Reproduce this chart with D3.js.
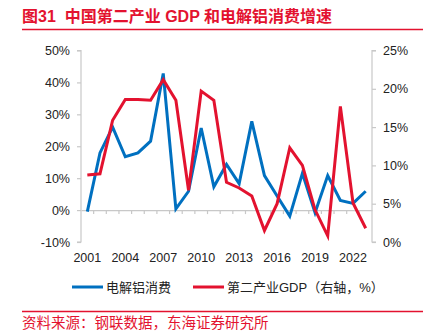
<!DOCTYPE html>
<html><head><meta charset="utf-8">
<script src="https://cdn.jsdelivr.net/npm/d3@7"></script>
<style>
body{margin:0;background:#fff;}
text{font-family:"Liberation Sans","Noto Sans CJK SC",Arial,sans-serif;}
.cjk{font-family:"Liberation Sans","Noto Sans CJK SC",sans-serif;white-space:pre;}
</style></head>
<body>
<svg id="c" width="438" height="333"></svg>
<script>
const years = d3.range(2001, 2024).map(String);
const aluminium = [-0.5,17.9,26.0,16.7,17.9,21.6,42.8,0.4,5.9,25.7,7.3,14.3,8.3,27.8,10.8,4.4,-1.9,11.5,-0.8,10.8,3.0,2.1,5.9];
const gdp2 = [8.75,8.9,15.9,18.6,18.6,18.5,21.2,18.5,6.75,19.7,18.5,7.8,7.05,6.0,1.5,5.0,12.3,10.0,4.2,0.8,17.7,5.1,1.8];
const leftTicks = [-10,0,10,20,30,40,50];
const rightTicks = [0,5,10,15,20,25];
const xLabels = ["2001","2004","2007","2010","2013","2016","2019","2022"];
const seriesNames = ["电解铝消费","第二产业GDP（右轴，%）"];
const title = "图31  中国第二产业 GDP 和电解铝消费增速";
const source = "资料来源：钢联数据，东海证券研究所";

const RED = "#e3122f", BLUE = "#0070c0", GRAY = "#c8c8c8";
const svg = d3.select("#c");
const L = 81, R = 372, T = 50.5, B = 242;

const x = d3.scaleBand().domain(years).range([L, R]);
const yL = d3.scaleLinear().domain([-10, 50]).range([B, T]);
const yR = d3.scaleLinear().domain([0, 25]).range([B, T]);
const cx = d => x(d) + x.bandwidth() / 2;

// title
svg.append("text").attr("x", 22).attr("y", 22).attr("fill", RED)
  .attr("font-size", 16).attr("font-weight", "bold").attr("class","cjk").text(title);
svg.append("line").attr("x1", 22).attr("x2", 423).attr("y1", 29.5).attr("y2", 29.5)
  .attr("stroke", RED).attr("stroke-width", 1.5);

// left axis
const gl = svg.append("g").attr("transform", `translate(${L},0)`)
  .call(d3.axisLeft(yL).tickValues(leftTicks).tickFormat(d => d + "%").tickSize(4).tickPadding(7));
// right axis
const gr = svg.append("g").attr("transform", `translate(${R},0)`)
  .call(d3.axisRight(yR).tickValues(rightTicks).tickFormat(d => d + "%").tickSize(4).tickPadding(7));
[gl, gr].forEach(g => {
  g.select(".domain").attr("stroke", GRAY).attr("stroke-width", 1.2).attr("d",
    g === gl ? `M-4,${T}H0V${B}H-4` : `M4,${T}H0V${B}H4`);
  g.selectAll(".tick line").attr("stroke", GRAY).attr("stroke-width", 1.2);
  g.selectAll(".tick text").attr("font-size", 12.5).attr("fill", "#222");
});

// x axis at 0
const gx = svg.append("g").attr("transform", `translate(0,${yL(0)})`)
  .call(d3.axisBottom(x).tickValues([]).tickSize(0));
gx.select(".domain").attr("stroke", GRAY).attr("stroke-width", 1.2);
gx.selectAll(".bt").data(years.slice(1)).enter().append("line")
  .attr("x1", d => x(d)).attr("x2", d => x(d)).attr("y1", 0).attr("y2", 4)
  .attr("stroke", GRAY).attr("stroke-width", 1.2);
svg.selectAll(".xl").data(xLabels).enter().append("text")
  .attr("x", d => cx(d)).attr("y", 262).attr("text-anchor", "middle")
  .attr("font-size", 12.5).attr("fill", "#222").text(d => d);

// lines
const lineL = d3.line().x((d, i) => cx(years[i])).y(d => yL(d));
const lineR = d3.line().x((d, i) => cx(years[i])).y(d => yR(d));
svg.append("path").datum(aluminium).attr("d", lineL).attr("fill", "none")
  .attr("stroke", BLUE).attr("stroke-width", 3);
svg.append("path").datum(gdp2).attr("d", lineR).attr("fill", "none")
  .attr("stroke", RED).attr("stroke-width", 3);

// legend
const leg = [{x: 72, c: BLUE, t: seriesNames[0]}, {x: 193, c: RED, t: seriesNames[1]}];
leg.forEach(l => {
  svg.append("line").attr("x1", l.x).attr("x2", l.x + 31).attr("y1", 287).attr("y2", 287)
    .attr("stroke", l.c).attr("stroke-width", 3);
  svg.append("text").attr("x", l.x + 34).attr("y", 292).attr("font-size", 13)
    .attr("fill", "#222").attr("class","cjk").text(l.t);
});

// footer
svg.append("line").attr("x1", 22).attr("x2", 423).attr("y1", 311.5).attr("y2", 311.5)
  .attr("stroke", RED).attr("stroke-width", 1.5);
svg.append("text").attr("x", 22).attr("y", 328).attr("fill", RED)
  .attr("font-size", 14.5).attr("class","cjk").text(source);
</script>
</body></html>
